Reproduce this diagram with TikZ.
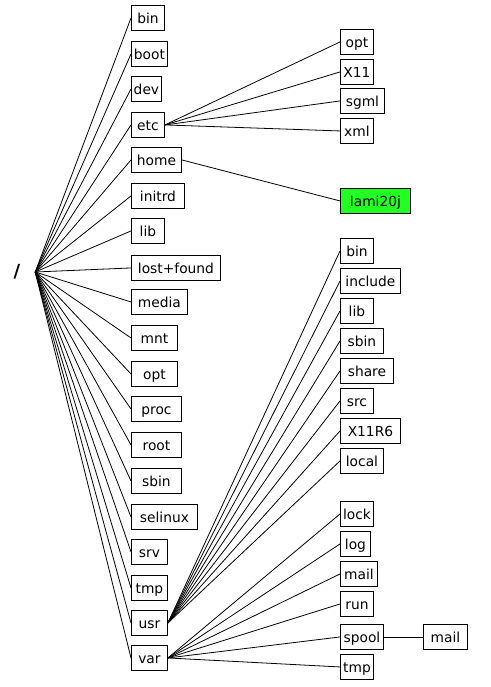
\documentclass[tikz,border=0pt]{standalone}
\usepackage{fontspec}
\setmainfont{DejaVu Sans}
\definecolor{hlgreen}{RGB}{34,255,34}
\begin{document}
\begin{tikzpicture}[x=1pt,y=-1pt,
  dir/.style={draw, line width=0.9pt, rectangle, anchor=north west, minimum height=25pt, inner sep=0pt,
    text height=12pt, text depth=1.5pt, font=\fontsize{13.8}{16}\selectfont},
  link/.style={line width=0.8pt}]
\useasboundingbox (0,0) rectangle (490,687);
\node[font=\fontsize{18}{20}\selectfont\bfseries, minimum width=36pt, inner sep=0pt] (root) at (17,272) {/};
% level 1
\node[dir, minimum width=33pt] (bin) at (131,5) {bin};
\node[dir, minimum width=36pt] (boot) at (131,41) {boot};
\node[dir, minimum width=30pt] (dev) at (131,76) {dev};
\node[dir, minimum width=33pt] (etc) at (131,112) {etc};
\node[dir, minimum width=50pt] (home) at (131,147) {home};
\node[dir, minimum width=53pt] (initrd) at (131,183) {initrd};
\node[dir, minimum width=33pt] (lib) at (131,218) {lib};
\node[dir, minimum width=89pt] (lost) at (131,255) {lost+found};
\node[dir, minimum width=56pt] (media) at (131,289) {media};
\node[dir, minimum width=46pt] (mnt) at (131,325) {mnt};
\node[dir, minimum width=46pt] (opt) at (131,361) {opt};
\node[dir, minimum width=50pt] (proc) at (131,396) {proc};
\node[dir, minimum width=50pt] (rootdir) at (131,432) {root};
\node[dir, minimum width=50pt] (sbin) at (131,468) {sbin};
\node[dir, minimum width=66pt] (selinux) at (131,504) {selinux};
\node[dir, minimum width=36pt] (srv) at (131,539) {srv};
\node[dir, minimum width=36pt] (tmp) at (131,575) {tmp};
\node[dir, minimum width=36pt] (usr) at (131,610) {usr};
\node[dir, minimum width=36pt] (var) at (131,645) {var};
% etc children
\node[dir, minimum width=33pt] (eopt) at (340,29) {opt};
\node[dir, minimum width=33pt] (ex11) at (340,59) {X11};
\node[dir, minimum width=44pt] (esgml) at (340,88) {sgml};
\node[dir, minimum width=33pt] (exml) at (340,118) {xml};
% home child
\node[dir, minimum width=70pt, fill=hlgreen] (lami) at (340,188) {lami20j};
% usr children
\node[dir, minimum width=33pt] (ubin) at (340,238) {bin};
\node[dir, minimum width=60pt] (uinc) at (340,268) {include};
\node[dir, minimum width=33pt] (ulib) at (340,298) {lib};
\node[dir, minimum width=43pt] (usbin) at (340,328) {sbin};
\node[dir, minimum width=53pt] (ushare) at (340,358) {share};
\node[dir, minimum width=33pt] (usrc) at (340,388) {src};
\node[dir, minimum width=60pt] (ux11) at (340,418) {X11R6};
\node[dir, minimum width=43pt] (ulocal) at (340,448) {local};
% var children
\node[dir, minimum width=33pt] (vlock) at (340,501) {lock};
\node[dir, minimum width=30pt] (vlog) at (340,531) {log};
\node[dir, minimum width=37pt] (vmail) at (340,561) {mail};
\node[dir, minimum width=33pt] (vrun) at (340,591) {run};
\node[dir, minimum width=43pt] (vspool) at (340,624) {spool};
\node[dir, minimum width=33pt] (vtmp) at (340,654) {tmp};
\node[dir, minimum width=44pt] (smail) at (423,624) {mail};
% connectors
\foreach \n in {bin,boot,dev,etc,home,initrd,lib,lost,media,mnt,opt,proc,rootdir,sbin,selinux,srv,tmp,usr,var}
  \draw[link] (root.east) -- (\n.west);
\foreach \n in {eopt,ex11,esgml,exml}
  \draw[link] (etc.east) -- (\n.west);
\draw[link] (home.east) -- (lami.west);
\foreach \n in {ubin,uinc,ulib,usbin,ushare,usrc,ux11,ulocal}
  \draw[link] (usr.east) -- (\n.west);
\foreach \n in {vlock,vlog,vmail,vrun,vspool,vtmp}
  \draw[link] (var.east) -- (\n.west);
\draw[link] (vspool.east) -- (smail.west);
\end{tikzpicture}
\end{document}
